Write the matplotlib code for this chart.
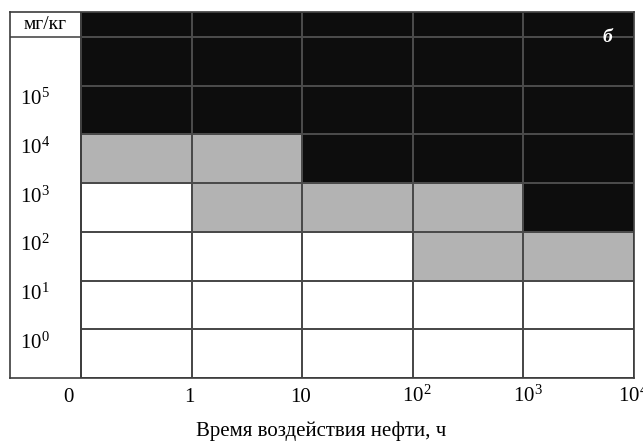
import numpy as np
import matplotlib.pyplot as plt
from matplotlib.colors import ListedColormap
from matplotlib.transforms import blended_transform_factory, offset_copy

plt.rcParams['font.family'] = ['Liberation Serif', 'DejaVu Serif']

# Time bins (h) and concentration bins (mg/kg)
time_labels = ['0', '1', '10', r'$\mathregular{10^2}$', r'$\mathregular{10^3}$', r'$\mathregular{10^4}$']
conc_labels = [r'$\mathregular{10^0}$', r'$\mathregular{10^1}$', r'$\mathregular{10^2}$',
               r'$\mathregular{10^3}$', r'$\mathregular{10^4}$', r'$\mathregular{10^5}$']

# Effect level per cell: 0 - none, 1 - moderate, 2 - severe
# rows go bottom to top, the last row is the header strip
effect = np.array([
    [0, 0, 0, 0, 0],
    [0, 0, 0, 0, 0],
    [0, 0, 0, 1, 1],
    [0, 1, 1, 1, 2],
    [1, 1, 2, 2, 2],
    [2, 2, 2, 2, 2],
    [2, 2, 2, 2, 2],
    [2, 2, 2, 2, 2],
])

label_col = 0.642
header_h = 0.513
n_rows = effect.shape[0] - 1
x_edges = np.arange(len(time_labels))
y_edges = np.append(np.arange(n_rows + 1), n_rows + header_h)

fig = plt.figure(figsize=(6.43, 4.42), dpi=100)
ax = fig.add_axes([10 / 643, 64 / 442, 624 / 643, 366 / 442])

cmap = ListedColormap(['white', '#b3b3b3', '#0d0d0d'])
ax.pcolormesh(x_edges, y_edges, effect, cmap=cmap, vmin=0, vmax=2,
              edgecolors='#4a4a4a', linewidth=1.1)

# left label column and unit cell
ax.plot([0, 0], [0, n_rows + header_h], color='#3c3c3c', lw=1.1)
ax.plot([-label_col, 0], [n_rows, n_rows], color='#3c3c3c', lw=1.1)
ax.text(-label_col / 2, n_rows + header_h / 2, 'мг/кг', ha='center', va='center', fontsize=14)

for k, lab in enumerate(conc_labels):
    ax.text(-label_col + 0.09, k + 0.72, lab, ha='left', va='center', fontsize=15)

ax.text(4.76, n_rows - 0.02, 'б', color='white', fontsize=14,
        fontweight='bold', fontstyle='italic', ha='center', va='center')

ax.set_xlim(-label_col, 5)
ax.set_ylim(0, n_rows + header_h)
ax.set_yticks([])
ax.set_xticks([])

# time labels on the column edges, sharing one baseline
base = blended_transform_factory(ax.transData, ax.transAxes)
shifts = [-13, -2, -2, -11, -10, -16]  # pixels
for xe, lab, dx in zip(x_edges, time_labels, shifts):
    ha = 'center' if dx > -5 else 'left'
    if xe == 0:
        ha = 'center'
    tr = offset_copy(base, fig=fig, x=dx, y=-24, units='dots')
    ax.text(xe, 0, lab, transform=tr, ha=ha, va='baseline', fontsize=15, clip_on=False)

for s in ax.spines.values():
    s.set_color('#3c3c3c')
    s.set_linewidth(1.2)

fig.text(321 / 643, 1 - 431 / 442, 'Время воздействия нефти, ч',
         ha='center', va='center', fontsize=15)

fig.savefig('out.png', dpi=100)
